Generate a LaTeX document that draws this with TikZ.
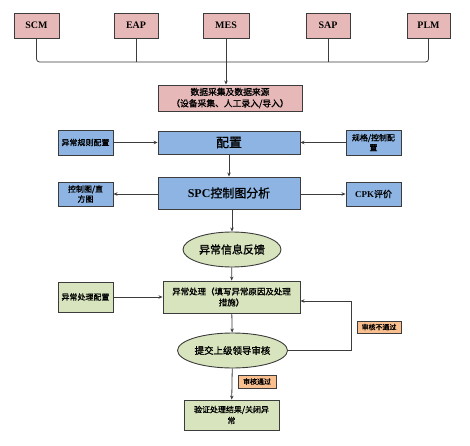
\documentclass[tikz,border=0pt]{standalone}
\usepackage{fontspec}
\setmainfont{Liberation Serif}
\newfontfamily\cjk{Noto Sans CJK SC}[AutoFakeBold=1.2]
\usetikzlibrary{shapes.geometric,arrows.meta}
\definecolor{pinkbox}{RGB}{230,185,184}
\definecolor{bluebox}{RGB}{141,180,226}
\definecolor{greenbox}{RGB}{215,228,189}
\definecolor{orangebox}{RGB}{250,191,143}
\definecolor{edge}{RGB}{60,60,60}
\tikzset{
  base/.style={draw=edge, line width=0.9bp, inner sep=1bp, align=center, font=\bfseries},
  pinkn/.style={base, fill=pinkbox, minimum height=25bp},
  bluen/.style={base, fill=bluebox},
  greenn/.style={base, fill=greenbox},
  elln/.style={base, ellipse, fill=greenbox, minimum width=98bp, minimum height=35bp},
  tagn/.style={draw=edge, line width=0.6bp, fill=orangebox, inner sep=1bp, font=\cjk\bfseries\fontsize{7}{8}\selectfont},
  conn/.style={draw=edge, line width=0.8bp},
  arr/.style={conn, -{Stealth[length=4bp,width=3.5bp]}}
}
\begin{document}
\begin{tikzpicture}[x=1bp,y=-1bp]
\useasboundingbox (0,0) rectangle (470,446);
% top systems
\node[pinkn, minimum width=45bp, font=\bfseries\fontsize{10}{11}\selectfont] (scm) at (36.5,25.5) {SCM};
\node[pinkn, minimum width=44bp, font=\bfseries\fontsize{10}{11}\selectfont] (eap) at (136,25.5) {EAP};
\node[pinkn, minimum width=46bp, font=\bfseries\fontsize{10}{11}\selectfont] (mes) at (226,25.5) {MES};
\node[pinkn, minimum width=44bp, font=\bfseries\fontsize{10}{11}\selectfont] (sap) at (328,25.5) {SAP};
\node[pinkn, minimum width=43bp, font=\bfseries\fontsize{10}{11}\selectfont] (plm) at (428.5,25.5) {PLM};
\node[pinkn, minimum width=144bp, minimum height=26bp, font=\cjk\bfseries\fontsize{8.8}{11.5}\selectfont] (data) at (230,98) {数据采集及数据来源\\（设备采集、人工录入/导入）};
\coordinate (bus) at (0,62);
\draw[conn, rounded corners=3bp] (scm.south) |- (bus -| plm.south) -- (plm.south);
\draw[conn] (eap.south) -- (eap.south |- bus);
\draw[conn] (sap.south) -- (sap.south |- bus);
\draw[arr] (mes.south) -- (mes.south |- data.north);
% config row
\node[bluen, minimum width=142bp, minimum height=23bp, font=\cjk\bfseries\fontsize{13}{14}\selectfont] (cfg) at (229,142.5) {配置};
\node[bluen, minimum width=55bp, minimum height=25bp, font=\cjk\bfseries\fontsize{8}{10}\selectfont] (rule) at (85.5,142.5) {异常规则配置};
\node[bluen, minimum width=55bp, minimum height=25bp, font=\cjk\bfseries\fontsize{8}{10}\selectfont] (spec) at (373.5,142.5) {规格/控制配\\置};
\draw[arr] (rule) -- (cfg);
\draw[arr] (spec) -- (cfg);
% SPC row
\node[bluen, minimum width=142bp, minimum height=32bp, font=\fontsize{12}{14}\selectfont] (spc) at (229,193) {\textbf{SPC}{\cjk\bfseries 控制图分析}};
\node[bluen, minimum width=55bp, minimum height=24bp, font=\cjk\bfseries\fontsize{8}{10}\selectfont] (chart) at (85.5,194) {控制图/直\\方图};
\node[bluen, minimum width=55bp, minimum height=24bp, font=\fontsize{9}{10}\selectfont] (cpk) at (373.5,194) {\textbf{CPK}{\cjk\bfseries 评价}};
\draw[arr] (cfg) -- (spc);
\draw[arr] (spc.west |- chart) -- (chart);
\draw[arr] (spc.east |- cpk) -- (cpk);
% feedback
\node[elln, font=\cjk\bfseries\fontsize{11}{13}\selectfont] (fb) at (232,249.5) {异常信息反馈};
\draw[arr] (spc.south -| fb) -- (fb);
% handling
\node[greenn, minimum width=137bp, minimum height=32bp, font=\cjk\bfseries\fontsize{8.5}{11}\selectfont] (handle) at (231.5,297) {异常处理（填写异常原因及处理\\措施）};
\node[greenn, minimum width=55bp, minimum height=30bp, font=\cjk\bfseries\fontsize{8}{10}\selectfont] (hcfg) at (85.5,297) {异常处理配置};
\draw[arr] (fb) -- (handle);
\draw[arr] (hcfg) -- (handle);
% review
\node[elln, minimum width=97bp, font=\cjk\bfseries\fontsize{9.5}{11}\selectfont] (review) at (232.5,350.5) {提交上级领导审核};
\draw[arr] (handle) -- (review);
\coordinate (loop) at (351,301);
\draw[arr] (review.east) -| (loop) -- (handle.east |- loop);
\node[tagn, minimum width=44bp, minimum height=12bp] (nopass) at (379,327) {审核不通过};
% verify
\node[greenn, minimum width=95bp, minimum height=30bp, font=\cjk\bfseries\fontsize{8}{11}\selectfont] (verify) at (231.5,415) {验证处理结果/关闭异\\常};
\draw[arr] (review) -- (verify);
\node[tagn, minimum width=38bp, minimum height=13bp] (pass) at (257,381.5) {审核通过};
\end{tikzpicture}
\end{document}
